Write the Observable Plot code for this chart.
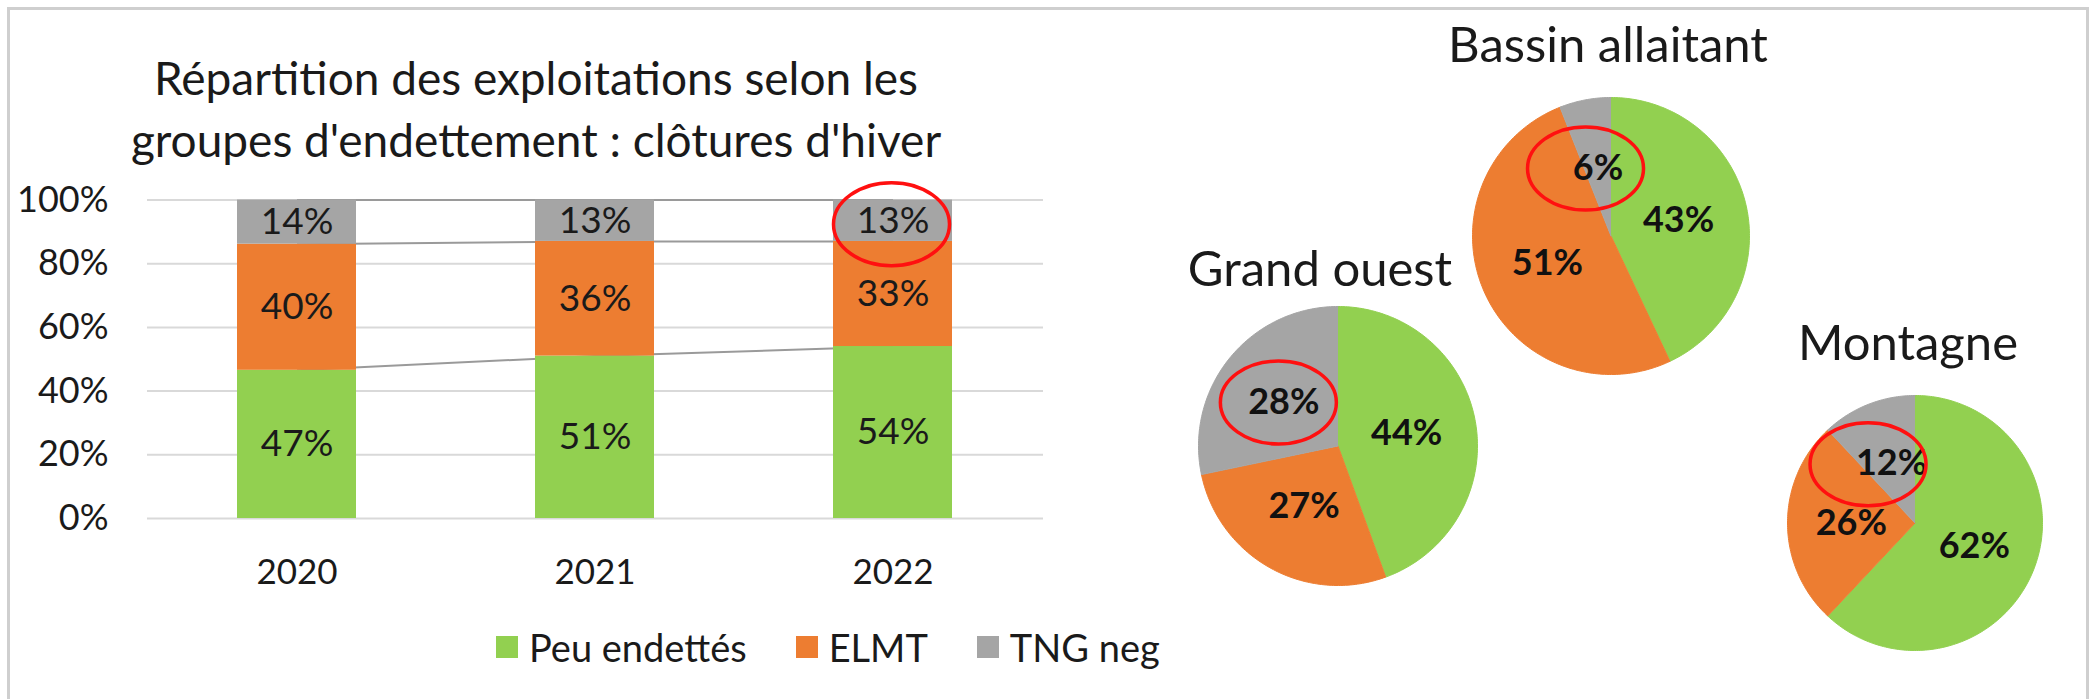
<!DOCTYPE html>
<html>
<head>
<meta charset="utf-8">
<script src="https://cdn.jsdelivr.net/npm/d3@7"></script>
<script src="https://cdn.jsdelivr.net/npm/@observablehq/plot@0.6"></script>
<style>
  body { margin: 0; background: #fff; font-family: Lato, "Open Sans", sans-serif; color: #1a1a1a; }
  #root { position: relative; width: 2092px; height: 699px; overflow: hidden; background: #fff; }
  .frame { position: absolute; left: 7px; top: 7px; width: 2082px; height: 760px; border: 3px solid #cfcfcf; box-sizing: border-box; }
  svg { overflow: visible; }
  .legend { position: absolute; display: flex; align-items: center; height: 36px; font-size: 38px; line-height: 36px; white-space: nowrap; }
  .legend .sw { width: 22px; height: 22px; margin-right: 11px; flex: none; }
  .legend .it { display: flex; align-items: center; margin-right: 49px; }
</style>
</head>
<body>
<div id="root"><div class="frame"></div></div>
<script>
// ---------- data ----------
const years = ["2020", "2021", "2022"];
const categories = ["Peu endettés", "ELMT", "TNG neg"];
const colors = ["#92D050", "#ED7D31", "#A5A5A5"];
const peuEndettes = [47, 51, 54];
const elmt = [40, 36, 33];
const tngNeg = [14, 13, 13];
const yTicks = [0, 0.2, 0.4, 0.6, 0.8, 1];
const barTitle = ["Répartition des exploitations selon les", "groupes d'endettement : clôtures d'hiver"];

const regions = ["Bassin allaitant", "Grand ouest", "Montagne"];
const regionPeu = [43, 44, 62];
const regionElmt = [51, 27, 26];
const regionTng = [6, 28, 12];

// ---------- drawing ----------
const root = document.getElementById("root");
const series = [peuEndettes, elmt, tngNeg];
const barData = years.flatMap((yr, i) => categories.map((c, j) => ({year: yr, cat: c, value: series[j][i]})));

// series lines (Excel "lignes de série") between stacked segment tops
const tops = years.map((yr, i) => {
  const tot = d3.sum(series, s => s[i]);
  let acc = 0;
  return series.map(s => (acc += s[i]) / tot);
});
const links = [];
for (let i = 0; i < years.length - 1; i++)
  for (let j = 0; j < categories.length; j++)
    links.push({x1: years[i], x2: years[i + 1], y1: tops[i][j], y2: tops[i + 1][j]});

const textColor = "#1a1a1a";
const barChart = Plot.plot({
  width: 1080,
  height: 600,
  marginLeft: 147,
  marginRight: 37,
  marginTop: 199.5,
  marginBottom: 82,
  style: {fontFamily: "Lato, 'Open Sans', sans-serif", fontSize: "35px", color: textColor, background: "transparent", overflow: "visible"},
  x: {domain: years, paddingInner: 0.6, paddingOuter: 0.3},
  y: {domain: [0, 1]},
  color: {domain: categories, range: colors},
  marks: [
    Plot.gridY(yTicks, {stroke: "#d9d9d9", strokeOpacity: 1, strokeWidth: 2}),
    Plot.link(links, {x1: "x1", x2: "x2", y1: "y1", y2: "y2", stroke: "#9a9a9a", strokeWidth: 2}),
    Plot.barY(barData, Plot.stackY({offset: "normalize", x: "year", y: "value", fill: "cat"})),
    Plot.text(barData, Plot.stackY({offset: "normalize", x: "year", y: "value", z: "cat", text: d => d.value + "%", fill: textColor, fontSize: 37})),
    Plot.axisY(yTicks, {tickSize: 0, tickPadding: 39, tickFormat: d => Math.round(d * 100) + "%", label: null, fontSize: 36, fill: textColor}),
    Plot.axisX({tickSize: 0, tickPadding: 41, label: null, fontSize: 35, fill: textColor})
  ]
});
barChart.style.position = "absolute";
barChart.style.left = "0px";
barChart.style.top = "0px";
root.appendChild(barChart);

// annotation: red ellipse around the 2022 "TNG neg" label
{
  const sx = barChart.scale("x"), sy = barChart.scale("y");
  const i = years.indexOf("2022");
  const cx = sx.apply("2022") + sx.bandwidth / 2 - 1;
  const cy = sy.apply((tops[i][1] + tops[i][2]) / 2) + 4;
  d3.select(barChart).append("ellipse")
    .attr("cx", cx).attr("cy", cy).attr("rx", 58).attr("ry", 41.5)
    .attr("fill", "none").attr("stroke", "#ff1010").attr("stroke-width", 3.5);
}

// legend
{
  const lg = document.createElement("div");
  lg.className = "legend";
  lg.style.left = "496px";
  lg.style.top = "629px";
  categories.forEach((c, j) => {
    const it = document.createElement("div");
    it.className = "it";
    const sw = document.createElement("span");
    sw.className = "sw";
    sw.style.background = colors[j];
    const tx = document.createElement("span");
    tx.textContent = c;
    it.appendChild(sw); it.appendChild(tx);
    lg.appendChild(it);
  });
  root.appendChild(lg);
}

// pies
const pieGeom = [
  {cx: 1610, cy: 235, r: 138.5, title: [1608, 62], annDx: -12},
  {cx: 1337.5, cy: 445.5, r: 139.5, title: [1320, 286], annDx: -5},
  {cx: 1914.5, cy: 522.5, r: 127.5, title: [1908, 360], annDx: -23}
];
regions.forEach((name, i) => {
  const vals = [regionPeu[i], regionElmt[i], regionTng[i]];
  const arcs = d3.pie().sort(null)(vals);
  const pts = [];
  arcs.forEach((a, j) => {
    pts.push({cat: categories[j], x: 0, y: 0});
    const n = Math.max(2, Math.ceil((a.endAngle - a.startAngle) / (Math.PI / 180)));
    for (let k = 0; k <= n; k++) {
      const t = a.startAngle + (a.endAngle - a.startAngle) * k / n;
      pts.push({cat: categories[j], x: Math.sin(t), y: Math.cos(t)});
    }
  });
  const labels = arcs.map((a, j) => {
    const m = (a.startAngle + a.endAngle) / 2;
    return {x: 0.5 * Math.sin(m), y: 0.5 * Math.cos(m), text: vals[j] + "%"};
  });
  const g = pieGeom[i];
  const W = 2 * g.r;
  const pie = Plot.plot({
    width: W, height: W, margin: 0,
    style: {fontFamily: "Lato, 'Open Sans', sans-serif", fontSize: "35px", color: textColor, background: "transparent", overflow: "visible"},
    x: {domain: [-1, 1], axis: null},
    y: {domain: [-1, 1], axis: null},
    marks: [
      ...categories.map((c, j) => Plot.line(pts.filter(p => p.cat === c), {x: "x", y: "y", fill: colors[j], stroke: colors[j], strokeWidth: 1, curve: "linear"})),
      Plot.text(labels, {x: "x", y: "y", text: "text", fontWeight: "bold", fontSize: 36, fill: "#111"})
    ]
  });
  pie.style.position = "absolute";
  pie.style.left = (g.cx - g.r) + "px";
  pie.style.top = (g.cy - g.r) + "px";
  root.appendChild(pie);
  // annotation ellipse around the TNG neg label
  const sx = pie.scale("x"), sy = pie.scale("y");
  const L = labels[2];
  d3.select(pie).append("ellipse")
    .attr("cx", sx.apply(L.x) + g.annDx).attr("cy", sy.apply(L.y) + 1)
    .attr("rx", 58).attr("ry", 41.5)
    .attr("fill", "none").attr("stroke", "#ff1010").attr("stroke-width", 3.5);
});

// titles (text overlay)
{
  const svg = d3.select(root).append("svg")
    .attr("width", 2092).attr("height", 699)
    .style("position", "absolute").style("left", "0px").style("top", "0px")
    .style("pointer-events", "none")
    .attr("font-family", "Lato, 'Open Sans', sans-serif")
    .attr("fill", textColor);
  svg.append("text").attr("x", 536).attr("y", 95).attr("text-anchor", "middle").attr("font-size", 46).text(barTitle[0]);
  svg.append("text").attr("x", 536).attr("y", 157).attr("text-anchor", "middle").attr("font-size", 46).text(barTitle[1]);
  regions.forEach((name, i) => {
    const g = pieGeom[i];
    svg.append("text").attr("x", g.title[0]).attr("y", g.title[1]).attr("text-anchor", "middle").attr("font-size", 49).text(name);
  });
}
</script>
</body>
</html>
